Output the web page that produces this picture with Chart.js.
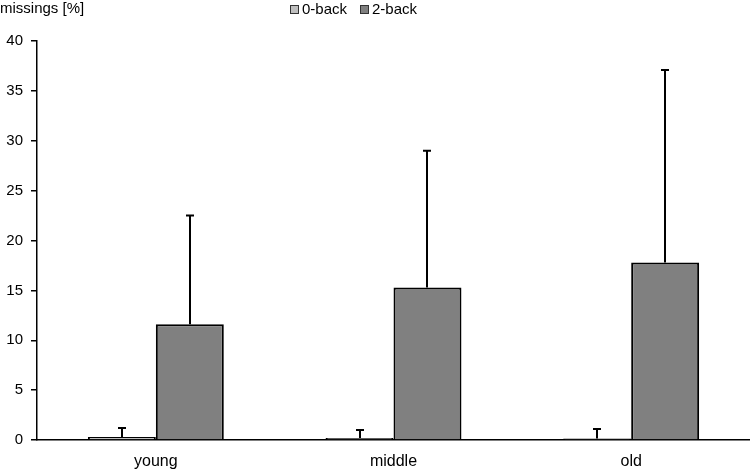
<!DOCTYPE html>
<html>
<head>
<meta charset="utf-8">
<script src="https://cdn.jsdelivr.net/npm/chart.js@4.4.1/dist/chart.umd.min.js"></script>
<style>
  html, body { margin: 0; padding: 0; background: #fff; }
  #wrap { width: 750px; height: 469px; position: relative; }
</style>
</head>
<body>
<div id="wrap"><canvas id="missingsChart"></canvas></div>
<script>
// datos
const groups = ['young', 'middle', 'old'];
const seriesNames = ['0-back', '2-back'];
const back0 = [0.3, 0.2, 0.15];
const back2 = [11.6, 15.3, 17.8];
const back0Err = [0.9, 0.8, 0.95];   // desviacion hacia arriba
const back2Err = [10.9, 13.7, 19.3];
const yTicks = [0, 5, 10, 15, 20, 25, 30, 35, 40];
const fillColors = ['#bfbfbf', '#808080'];

const FONT = 'Liberation Sans, Arial, sans-serif';

// barras de error (solo hacia arriba, con tapa)
const errorBarsPlugin = {
  id: 'errorBars',
  afterDatasetsDraw(chart) {
    const ctx = chart.ctx;
    const yScale = chart.scales.y;
    const errs = [back0Err, back2Err];
    ctx.save();
    ctx.strokeStyle = '#000';
    ctx.lineWidth = 2;
    chart.data.datasets.forEach((ds, i) => {
      const meta = chart.getDatasetMeta(i);
      meta.data.forEach((bar, j) => {
        const top = yScale.getPixelForValue(ds.data[j] + errs[i][j]);
        const x = Math.round(bar.x);
        ctx.beginPath();
        ctx.moveTo(x, bar.y);
        ctx.lineTo(x, top);
        ctx.moveTo(x - 4, top);
        ctx.lineTo(x + 4, top);
        ctx.stroke();
      });
    });
    ctx.restore();
  }
};

// titulo del eje y y leyenda arriba
const headerPlugin = {
  id: 'header',
  afterDraw(chart) {
    const ctx = chart.ctx;
    ctx.save();
    ctx.font = '15px ' + FONT;
    ctx.fillStyle = '#000';
    ctx.textBaseline = 'middle';
    ctx.textAlign = 'left';
    ctx.fillText('missings [%]', 0, 9);

    const items = [{ x: 290, label: seriesNames[0] }, { x: 360, label: seriesNames[1] }];
    items.forEach((it, i) => {
      ctx.fillStyle = fillColors[i];
      ctx.fillRect(it.x, 5, 8, 8);
      ctx.strokeStyle = '#333';
      ctx.lineWidth = 1;
      ctx.strokeRect(it.x + 0.5, 5.5, 8, 8);
      ctx.fillStyle = '#000';
      ctx.fillText(it.label, it.x + 12, 10);
    });
    ctx.restore();
  }
};

new Chart(document.getElementById('missingsChart'), {
  type: 'bar',
  data: {
    labels: groups,
    datasets: [
      {
        label: seriesNames[0],
        data: back0,
        backgroundColor: fillColors[0],
        borderColor: '#000',
        borderWidth: 2,
        barPercentage: 1,
        categoryPercentage: 0.572
      },
      {
        label: seriesNames[1],
        data: back2,
        backgroundColor: fillColors[1],
        borderColor: '#000',
        borderWidth: 2,
        barPercentage: 1,
        categoryPercentage: 0.572
      }
    ]
  },
  options: {
    responsive: true,
    maintainAspectRatio: false,
    animation: false,
    layout: { padding: { top: 41, right: 0, left: 0, bottom: 0 } },
    plugins: {
      legend: { display: false },
      tooltip: { enabled: false }
    },
    scales: {
      x: {
        grid: { display: false },
        border: { display: true, color: '#000', width: 1.5 },
        ticks: { color: '#000', font: { family: FONT, size: 16 }, padding: 4 },
        afterFit(scale) { scale.height = 29; }
      },
      y: {
        min: 0,
        max: 40,
        afterBuildTicks(scale) { scale.ticks = yTicks.map(v => ({ value: v })); },
        grid: { drawOnChartArea: false, drawTicks: true, tickLength: 6, color: '#000', lineWidth: 1.5 },
        border: { display: true, color: '#000', width: 1.5 },
        ticks: { color: '#000', font: { family: FONT, size: 15 }, padding: 8 },
        afterFit(scale) { scale.width = 37; }
      }
    }
  },
  plugins: [errorBarsPlugin, headerPlugin]
});
</script>
</body>
</html>
